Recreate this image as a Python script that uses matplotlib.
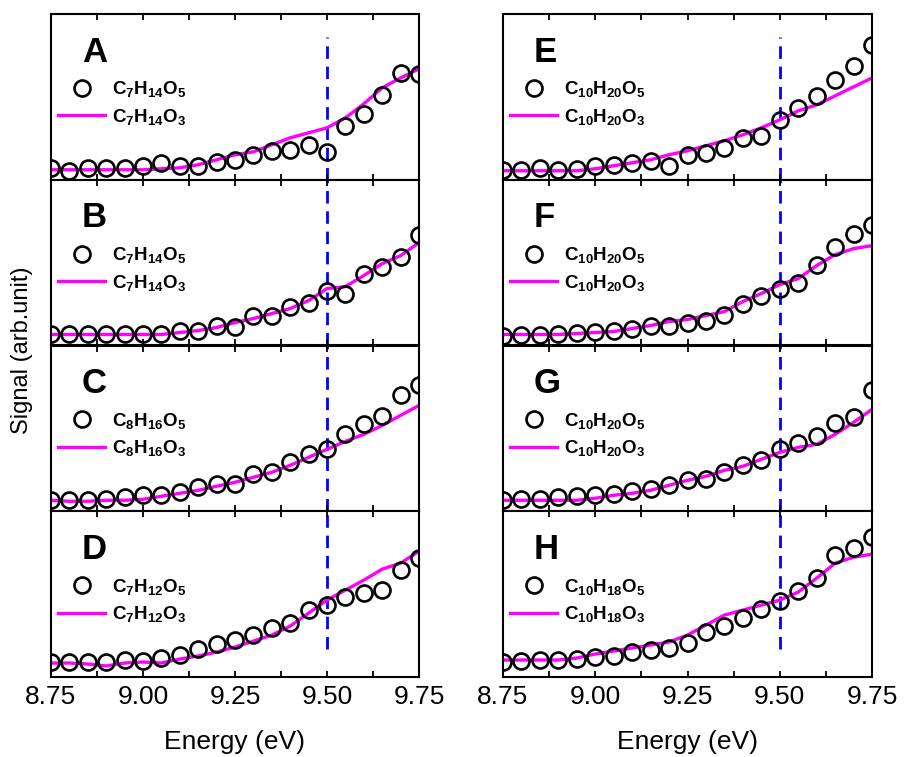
import numpy as np
import matplotlib
matplotlib.use('Agg')
import matplotlib.pyplot as plt
from matplotlib.ticker import MultipleLocator, NullLocator

plt.rcParams['font.family'] = ['Liberation Sans', 'DejaVu Sans']
plt.rcParams['mathtext.fontset'] = 'custom'
plt.rcParams['mathtext.rm'] = 'Liberation Sans'
plt.rcParams['mathtext.bf'] = 'Liberation Sans:bold'

energy = np.round(np.arange(8.75, 9.7501, 0.05), 2)

letters = ['A', 'B', 'C', 'D', 'E', 'F', 'G', 'H']
labels_o5 = [r'$\mathbf{C_7H_{14}O_5}$', r'$\mathbf{C_7H_{14}O_5}$', r'$\mathbf{C_8H_{16}O_5}$', r'$\mathbf{C_7H_{12}O_5}$',
             r'$\mathbf{C_{10}H_{20}O_5}$', r'$\mathbf{C_{10}H_{20}O_5}$', r'$\mathbf{C_{10}H_{20}O_5}$', r'$\mathbf{C_{10}H_{18}O_5}$']
labels_o3 = [r'$\mathbf{C_7H_{14}O_3}$', r'$\mathbf{C_7H_{14}O_3}$', r'$\mathbf{C_8H_{16}O_3}$', r'$\mathbf{C_7H_{12}O_3}$',
             r'$\mathbf{C_{10}H_{20}O_3}$', r'$\mathbf{C_{10}H_{20}O_3}$', r'$\mathbf{C_{10}H_{20}O_3}$', r'$\mathbf{C_{10}H_{18}O_3}$']

# circles (O5 species)
o5_A = [12, 9, 12, 12, 12, 14, 17, 14, 14, 18, 20, 25, 29, 30, 35, 28, 54, 66, 85, 107, 106]
o5_B = [12, 12, 12, 12, 12, 12, 12, 15, 15, 20, 19, 30, 30, 39, 43, 55, 52, 72, 79, 89, 111]
o5_C = [11, 11, 11, 12, 14, 16, 16, 19, 24, 27, 27, 37, 39, 49, 57, 62, 77, 87, 95, 116, 126]
o5_D = [15, 15, 15, 15, 17, 16, 19, 22, 28, 33, 37, 42, 49, 54, 67, 72, 80, 84, 87, 107, 119]
o5_E = [10, 10, 12, 10, 11, 14, 15, 17, 19, 14, 25, 27, 32, 42, 44, 60, 72, 84, 100, 114, 135]
o5_F = [10, 11, 11, 12, 13, 14, 15, 17, 20, 20, 23, 25, 31, 42, 50, 57, 63, 81, 99, 112, 121]
o5_G = [11, 12, 12, 14, 15, 16, 17, 20, 22, 26, 31, 32, 39, 46, 51, 62, 68, 75, 88, 94, 121]
o5_H = [15, 16, 17, 17, 18, 20, 21, 25, 27, 29, 34, 45, 51, 59, 68, 76, 86, 99, 122, 129, 140]

# lines (O3 species)
o3_A = [10, 10, 10, 10, 10, 10, 11, 12, 15, 20, 25, 28, 35, 42, 47, 52, 62, 76, 92, 102, 111]
o3_B = [11, 11, 11, 11, 11, 11, 11, 13, 15, 18, 23, 27, 32, 37, 45, 57, 59, 70, 82, 90, 103]
o3_C = [11, 10, 10, 11, 11, 12, 15, 18, 21, 25, 29, 34, 39, 46, 54, 62, 70, 77, 86, 96, 106]
o3_D = [14, 14, 13, 11, 14, 15, 14, 18, 21, 25, 30, 36, 42, 51, 64, 77, 87, 97, 108, 114, 126]
o3_E = [9, 9, 9, 9, 9, 11, 14, 17, 20, 25, 29, 34, 39, 45, 52, 60, 69, 75, 84, 93, 102]
o3_F = [11, 11, 11, 11, 12, 13, 14, 17, 20, 24, 26, 30, 34, 44, 52, 61, 67, 80, 91, 97, 100]
o3_G = [11, 11, 11, 11, 11, 13, 16, 18, 21, 26, 31, 35, 41, 45, 52, 59, 64, 67, 77, 89, 102]
o3_H = [17, 17, 17, 17, 19, 23, 26, 29, 32, 35, 42, 52, 62, 67, 72, 77, 85, 99, 114, 120, 123]

circles = [o5_A, o5_B, o5_C, o5_D, o5_E, o5_F, o5_G, o5_H]
lines = [o3_A, o3_B, o3_C, o3_D, o3_E, o3_F, o3_G, o3_H]

fig = plt.figure(figsize=(9.07, 7.57), dpi=100)
W, H = 907, 757
col_x = [(51, 419), (503, 872)]
top, bottom = 14, 677
ph = (bottom - top) / 4

for k in range(8):
    col, row = divmod(k, 4)
    x0, x1 = col_x[col]
    y_top = top + row * ph
    ax = fig.add_axes([x0 / W, 1 - (y_top + ph) / H, (x1 - x0) / W, ph / H])
    ax.plot(energy, lines[k], color='#ff00ff', lw=2.4, zorder=2, label=labels_o3[k])
    ax.plot(energy, circles[k], 'o', mfc='none', mec='black', ms=11.5, mew=1.9, zorder=3, label=labels_o5[k])
    ax.set_xlim(8.75, 9.75)
    ax.set_ylim(0, 166)
    ax.yaxis.set_major_locator(NullLocator())
    ax.xaxis.set_major_locator(MultipleLocator(0.25))
    ax.xaxis.set_minor_locator(MultipleLocator(0.125))
    ax.tick_params(axis='x', which='both', direction='in', top=True, bottom=True, length=4.5, width=1.3,
                   labelsize=19, pad=6)
    for s in ax.spines.values():
        s.set_linewidth(1.5)
    if row == 3:
        ax.set_xlabel('Energy (eV)', fontsize=19, labelpad=15)
    else:
        ax.tick_params(axis='x', labelbottom=False)
    # dashed reference line at 9.5 eV
    ymin = 0.17 if row == 3 else 0
    ymax = 0.86 if row == 0 else 1
    ax.axvline(9.5, ymin=ymin, ymax=ymax, color='#0000ff', lw=2, ls=(0, (4.5, 2.8)), zorder=1)
    ax.text(0.084, 0.77, letters[k], transform=ax.transAxes, fontsize=25, fontweight='bold', va='center', ha='left')
    h, l = ax.get_legend_handles_labels()
    ax.legend(h[::-1], l[::-1], loc='upper left', bbox_to_anchor=(-0.016, 0.685), frameon=False, fontsize=13.5,
              handlelength=2.5, handletextpad=0.35, labelspacing=0.4, borderaxespad=0.3)

fig.text(22 / W, 1 - 350 / H, 'Signal (arb.unit)', rotation=90, fontsize=17, va='center', ha='center')

fig.savefig('out.png', dpi=100)
